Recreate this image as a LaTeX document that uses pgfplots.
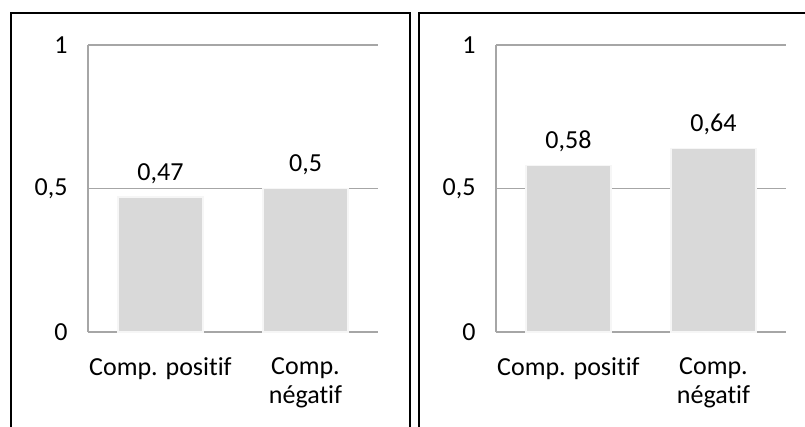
\documentclass[border=0pt]{standalone}
\usepackage{fontspec}
\setmainfont{Carlito}[Ligatures={NoCommon}]
\usepackage{pgfplots}
\pgfplotsset{compat=1.18}
\definecolor{gridc}{HTML}{A6A6A6}
\definecolor{barc}{HTML}{D9D9D9}
\newcommand{\bigf}{\fontsize{26}{29}\selectfont}
\pgfplotsset{panel/.style={
  scale only axis, width=290pt, height=287pt, anchor=south west,
  xmin=-0.5, xmax=1.5, ymin=0, ymax=1,
  axis lines*=left, axis line style={gridc, line width=1.3pt},
  ytick={0,0.5,1}, yticklabels={0,{0,5},1},
  ymajorgrids, grid style={gridc, line width=1.3pt},
  major tick length=0pt,
  xtick={0,1}, xticklabels={Comp. positif,{Comp.\\négatif}},
  tick label style={font=\bigf, text=black},
  xticklabel style={align=center, yshift=-22pt},
  yticklabel style={xshift=-17pt},
  ybar, bar width=85pt,
  /pgf/number format/use comma,
  /pgf/number format/assume math mode=true,
  nodes near coords={\pgfmathprintnumber[use comma,assume math mode=true]{\pgfplotspointmeta}},
  nodes near coords style={font=\bigf, text=black, fill=white, inner xsep=7pt, inner ysep=4pt, yshift=9pt},
}}
\begin{document}
\begin{tikzpicture}[x=1pt,y=1pt]
\useasboundingbox (0,0) rectangle (805,426);
\draw[line width=2pt] (11,-5) -- (11,413) -- (410,413) -- (410,-5);
\draw[line width=2pt] (419,-5) -- (419,413) -- (810,413);
\begin{axis}[panel, at={(88pt,94pt)}]
\addplot[fill=barc, draw=white!93!gray, line width=1.5pt] coordinates {(0,0.47) (1,0.5)};
\end{axis}
\begin{axis}[panel, at={(496pt,94pt)}]
\addplot[fill=barc, draw=white!93!gray, line width=1.5pt] coordinates {(0,0.58) (1,0.64)};
\end{axis}
\end{tikzpicture}
\end{document}
